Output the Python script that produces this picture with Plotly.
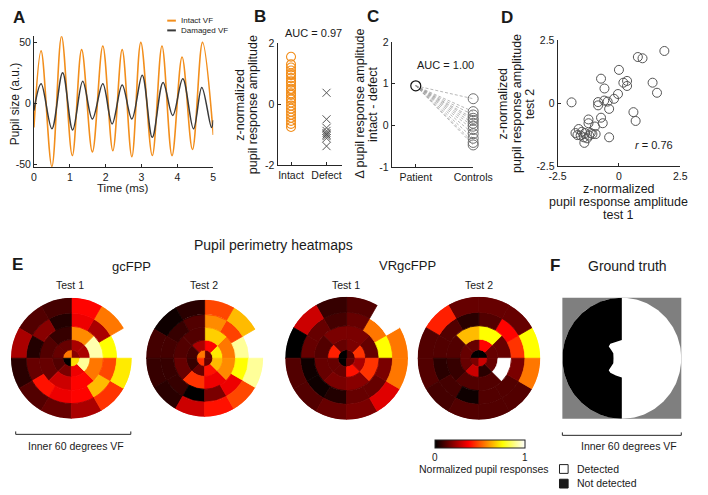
import numpy as np
import plotly.graph_objects as go

W, H = 708, 495
def X(px): return px / W
def Y(py): return 1 - py / H

FONT = "Liberation Sans, Arial, Helvetica, sans-serif"
TXT = "#1a1a1a"
AX = "#262626"
ORANGE = "#F28E1C"
DARK = "#3a3a3a"

# ---------------- Panel A : pupil traces (peaks / troughs) ----------------
INTACT_T = [0, 0.2, 0.5, 0.77, 1.07, 1.33, 1.63, 1.92, 2.2, 2.46, 2.73, 2.98, 3.3, 3.57, 3.85, 4.13, 4.42, 4.7, 5.0]
INTACT_V = [-20, 43, -52, 55, -43, 44, -40, 47, -39, 44, -44, 50, -43, 47, -43, 38, -38, 50, -26]
DAMAGED_T = [0, 0.2, 0.5, 0.8, 1.08, 1.36, 1.63, 1.92, 2.18, 2.46, 2.73, 3.02, 3.3, 3.6, 3.87, 4.15, 4.45, 4.68, 4.95, 5.0]
DAMAGED_V = [-6, 16, -21, 25, -22, 18, -13, 16, -17, 15, -13, 23, -28, 17, -10, 20, -21, 13, -20, -14]

# ---------------- Panel B ----------------
B_CATS = ["Intact", "Defect"]
B_INTACT = [1.55, 1.3, 1.2, 1.1, 1.0, 0.95, 0.85, 0.75, 0.7, 0.6, 0.5, 0.45, 0.35, 0.3, 0.2,
            0.15, 0.05, -0.05, -0.15, -0.25, -0.35, -0.45, -0.55, -0.65, -0.75]
B_DEFECT = [0.37, -0.5, -0.78, -0.88, -0.95, -1.0, -1.05, -1.12, -1.38]
B_AUC = "AUC = 0.97"

# ---------------- Panel C ----------------
C_CATS = ["Patient", "Controls"]
C_PATIENT = 0.95
C_CONTROLS = [0.64, 0.33, 0.25, 0.17, 0.12, 0.05, -0.02, -0.1, -0.2, -0.31, -0.41, -0.47]
C_AUC = "AUC = 1.00"

# ---------------- Panel D ----------------
D_TEST1 = [-1.93, 1.85, 0.77, 0.96, 0.0, -0.73, 0.18, 0.33, 0.33, 1.37, 1.55, -0.59, -0.04, -0.2,
           -0.6, -0.46, -0.85, -0.85, -0.4, 0.59, 0.68, -0.73, -0.66, -1.24, -1.24, -0.98, -0.95,
           -0.4, -1.64, -1.77, -1.51, -1.38, -1.15, -1.21, -1.43, -1.3, -1.41, -1.69, -1.56, -1.08]
D_TEST2 = [0.03, 2.07, 1.83, 1.78, 1.32, 0.97, 0.81, 0.88, 0.68, 0.81, 0.41, 0.58, 0.36, 0.17,
           0.10, 0.06, 0.04, -0.09, -0.23, -0.36, -0.71, -0.58, -0.8, -0.65, -0.8, -0.93, -1.23,
           -1.36, -1.03, -1.19, -1.14, -1.19, -1.19, -1.29, -1.36, -1.4, -1.58, -1.27, -1.29, -1.23]
D_R = "<i>r</i> = 0.76"

# ---------------- Panel E : perimetry heatmaps ----------------
RING_EDGES = [0, 0.14, 0.31, 0.53, 0.75, 1.0]   # fraction of 30 deg
RING_SECTORS = [4, 8, 8, 12, 12]               # sectors per ring, counter-clockwise from right
# values per ring (None = not tested)
GC_TEST1 = [[0.2, 0.55, 0.0, 0.7],
            [0.25, 0.25, 0.15, 0.15, 0.12, 0.18, 0.35, 0.9],
            [0.92, 0.58, 0.08, 0.12, 0.15, 0.3, 0.38, 0.55],
            [0.75, 0.25, 0.35, 0.05, 0.2, 0.05, 0.15, 0.4, 0.35, 0.38, 0.65, 0.48],
            [None, 0.55, 0.38, 0.1, 0.12, 0.25, 0.06, 0.12, 0.15, 0.25, 0.45, 0.72]]
GC_TEST2 = [[0.15, 0.55, 0.45, 0.15],
            [0.72, 0.38, 0.25, 0.1, 0.08, 0.15, 0.4, 0.65],
            [0.55, 0.68, 0.12, 0.12, 0.15, 0.45, 0.35, 0.58],
            [0.9, 0.47, 0.58, 0.12, 0.08, 0.1, 0.08, 0.08, 0.0, 0.18, 0.35, 0.75],
            [None, 0.65, 0.48, 0.06, 0.02, 0.1, 0.08, 0.06, 0.3, 0.4, 0.48, 0.9]]
VR_TEST1 = [[0.12, 0.0, 0.0, 0.15],
            [0.45, 0.18, 0.15, 0.42, 0.15, 0.15, 0.4, 0.25],
            [0.15, 0.18, 0.18, 0.12, 0.15, 0.18, 0.2, 0.45],
            [0.75, 0.55, 0.15, 0.1, 0.15, 0.15, 0.02, 0.02, 0.05, 0.15, 0.15, 0.18],
            [0.55, 1.0, 0.12, 0.08, 0.3, 0.0, 0.12, 0.12, 0.15, 0.18, 0.33, 0.55]]
VR_TEST2 = [[0.0, 0.0, 0.18, 0.3],
            [0.15, 0.38, 0.15, 0.15, 0.15, 0.3, 0.06, 0.15],
            [0.15, 0.75, 0.65, 0.12, 0.08, 0.12, 0.12, 1.0],
            [0.45, 0.38, 0.12, 0.06, 0.12, 0.12, 0.06, 0.1, 0.02, 0.12, 0.12, 0.18],
            [0.75, 0.15, 0.15, 0.15, 0.42, 0.12, 0.12, 0.1, 0.12, 0.12, 0.12, 0.55]]

HOT = [[0, "#000000"], [0.375, "#ff0000"], [0.75, "#ffff00"], [1, "#ffffff"]]

# ---------------- Panel F : ground truth (degrees) ----------------
FIELD_RADIUS = 30
NOTCH_X = [0, -3, -5.8, -6.6, -5.5, -4.3, -4.2, -4.3, -5.5, -6.6, -5.8, -3, 0]
NOTCH_Y = [-9.5, -8.5, -7.2, -6.0, -4.5, -2.5, 0, 2.5, 4.3, 5.8, 7.2, 8.2, 9.0]

fig = go.Figure()

# Panel A
fig.add_trace(go.Scatter(x=INTACT_T, y=INTACT_V, mode="lines", xaxis="x", yaxis="y",
                         line=dict(color=ORANGE, width=1.6, shape="spline", smoothing=1.0)))
fig.add_trace(go.Scatter(x=DAMAGED_T, y=DAMAGED_V, mode="lines", xaxis="x", yaxis="y",
                         line=dict(color=DARK, width=1.5, shape="spline", smoothing=1.0)))

# Panel B
fig.add_trace(go.Scatter(x=[0] * len(B_INTACT), y=B_INTACT, mode="markers", xaxis="x2", yaxis="y2",
                         marker=dict(symbol="circle-open", size=9, color=ORANGE, line=dict(width=1.1)),
                         cliponaxis=False))
fig.add_trace(go.Scatter(x=[1] * len(B_DEFECT), y=B_DEFECT, mode="markers", xaxis="x2", yaxis="y2",
                         marker=dict(symbol="x-thin-open", size=8, color="#555555", line=dict(width=1)),
                         cliponaxis=False))

# Panel C
for v in C_CONTROLS:
    fig.add_trace(go.Scatter(x=[0, 1], y=[C_PATIENT, v], mode="lines", xaxis="x3", yaxis="y3",
                             line=dict(color="#9a9a9a", width=0.7, dash="3px,2px"), cliponaxis=False))
fig.add_trace(go.Scatter(x=[1] * len(C_CONTROLS), y=C_CONTROLS, mode="markers", xaxis="x3", yaxis="y3",
                         marker=dict(symbol="circle-open", size=10, color="#6e6e6e", line=dict(width=1)),
                         cliponaxis=False))
fig.add_trace(go.Scatter(x=[0], y=[C_PATIENT], mode="markers", xaxis="x3", yaxis="y3",
                         marker=dict(symbol="circle-open", size=10, color="#111111", line=dict(width=1.2)),
                         cliponaxis=False))

# Panel D
fig.add_trace(go.Scatter(x=D_TEST1, y=D_TEST2, mode="markers", xaxis="x4", yaxis="y4",
                         marker=dict(symbol="circle-open", size=9, color="#555555", line=dict(width=1)),
                         cliponaxis=False))

# Panel E heatmaps
def heat_trace(values, subplot, showscale=False):
    r, base, theta, width, col = [], [], [], [], []
    for i, ring in enumerate(values):
        n = RING_SECTORS[i]
        for k, v in enumerate(ring):
            if v is None:
                continue
            r.append(RING_EDGES[i + 1] - RING_EDGES[i])
            base.append(RING_EDGES[i])
            theta.append((k + 0.5) * 360 / n)
            width.append(360 / n)
            col.append(v)
    mk = dict(color=col, colorscale=HOT, cmin=0, cmax=1,
              line=dict(color=col, colorscale=HOT, cmin=0, cmax=1, width=0.8))
    if showscale:
        mk["showscale"] = True
        mk["colorbar"] = dict(orientation="h", x=X(491), xanchor="center", y=Y(445), yanchor="top",
                              len=90, lenmode="pixels", thickness=8, thicknessmode="pixels",
                              outlinewidth=1, outlinecolor="#222222", tickvals=[0, 1], ticktext=["0", "1"],
                              ticks="", tickfont=dict(size=10, family=FONT, color=TXT), xpad=0, ypad=0)
    return go.Barpolar(r=r, base=base, theta=theta, width=width, marker=mk, subplot=subplot)

fig.add_trace(heat_trace(GC_TEST1, "polar", showscale=True))
fig.add_trace(heat_trace(GC_TEST2, "polar2"))
fig.add_trace(heat_trace(VR_TEST1, "polar3"))
fig.add_trace(heat_trace(VR_TEST2, "polar4"))

# Panel F
t = np.linspace(0, 2 * np.pi, 200)
fig.add_trace(go.Scatter(x=FIELD_RADIUS * np.cos(t), y=FIELD_RADIUS * np.sin(t), mode="lines",
                         fill="toself", fillcolor="white", line=dict(width=0), xaxis="x5", yaxis="y5"))
ta = np.linspace(np.pi / 2, 3 * np.pi / 2, 120)
bx = list(FIELD_RADIUS * np.cos(ta)) + NOTCH_X + [0]
by = list(FIELD_RADIUS * np.sin(ta)) + NOTCH_Y + [FIELD_RADIUS]
fig.add_trace(go.Scatter(x=bx, y=by, mode="lines", fill="toself", fillcolor="black",
                         line=dict(width=0), xaxis="x5", yaxis="y5"))

# ---------------- layout ----------------
def ax(dom, rng, **kw):
    d = dict(domain=dom, range=rng, showline=True, linecolor=AX, linewidth=1, ticks="inside",
             ticklen=3, tickcolor=AX, showgrid=False, zeroline=False, mirror=False,
             tickfont=dict(size=10.5, family=FONT, color=TXT), fixedrange=True)
    d.update(kw)
    return d

def polar(cx, cy, r):
    return dict(domain=dict(x=[X(cx - r), X(cx + r)], y=[Y(cy + r), Y(cy - r)]),
                bgcolor="rgba(0,0,0,0)", hole=0,
                radialaxis=dict(range=[0, 1], visible=False),
                angularaxis=dict(visible=False, rotation=0, direction="counterclockwise"))

layout = dict(
    width=W, height=H, margin=dict(l=0, r=0, t=0, b=0), showlegend=False,
    paper_bgcolor="white", plot_bgcolor="rgba(0,0,0,0)",
    font=dict(family=FONT, color=TXT),
    xaxis=ax([X(26), X(213)], [0, 5], anchor="y", tickvals=[0, 1, 2, 3, 4, 5]),
    yaxis=ax([Y(165), Y(31)], [-52.4, 55], anchor="x", tickvals=[-50, 0, 50], ticktext=["-50", "0", "50"]),
    xaxis2=ax([X(280), X(347)], [-0.38, 1.43], anchor="y2", tickvals=[0, 1], ticktext=B_CATS),
    yaxis2=ax([Y(163), Y(38)], [-2, 2], anchor="x2", tickvals=[-2, 0, 2], ticktext=["-2", "0", "2"]),
    xaxis3=ax([X(399), X(484)], [-0.42, 1.0], anchor="y3", tickvals=[0, 1], ticktext=C_CATS),
    yaxis3=ax([Y(165), Y(37)], [-1, 2], anchor="x3", tickvals=[-1, 0, 1, 2], ticktext=["-1", "0", "1", "2"]),
    xaxis4=ax([X(572), X(700)], [-2.5, 2.5], anchor="y4", tickvals=[-2.5, 0, 2.5], ticktext=["-2.5", "0", "2.5"]),
    yaxis4=ax([Y(164), Y(35)], [-2.5, 2.5], anchor="x4", tickvals=[-2.5, 0, 2.5], ticktext=["-2.5", "0", "2.5"]),
    xaxis5=dict(domain=[X(577), X(701)], range=[-30, 30], visible=False, anchor="y5", fixedrange=True),
    yaxis5=dict(domain=[Y(423), Y(299)], range=[-30, 30], visible=False, anchor="x5", fixedrange=True),
    polar=polar(65, 361, 63),
    polar2=polar(204, 361, 61),
    polar3=polar(352, 361, 64),
    polar4=polar(490, 361, 64),
)

ann = []
def txt(x, y, s, size=11, xanchor="center", angle=0, bold=False):
    if bold:
        s = "<b>" + s + "</b>"
    ann.append(dict(x=X(x), y=Y(y), xref="paper", yref="paper", text=s, showarrow=False,
                    xanchor=xanchor, yanchor="middle", textangle=angle,
                    font=dict(size=size, family=FONT, color=TXT)))

# panel letters
for L, x, y in [("A", 10, 12), ("B", 262, 11), ("C", 380, 11), ("D", 519, 12), ("E", 9, 265), ("F", 569, 266)]:
    txt(x, y, L, size=17, bold=True)

# A
txt(6, 100, "Pupil size (a.u.)", size=12, angle=-90)
txt(118, 187, "Time (ms)", size=11.5)
txt(177, 15, "Intact VF", size=8, xanchor="left")
txt(177, 25, "Damaged VF", size=8, xanchor="left")
# B
txt(240, 101, "z-normalized", size=12.5, angle=-90)
txt(254, 101, "pupil response amplitude", size=12.5, angle=-90)
txt(317, 28, B_AUC, size=11)
# C
txt(366, 100, "Δ pupil response amplitude", size=12.5, angle=-90)
txt(379, 100, "intact - defect", size=12.5, angle=-90)
txt(455, 60, C_AUC, size=11)
# D
txt(515, 100, "z-normalized", size=12.5, angle=-90)
txt(529, 100, "pupil response amplitude", size=12.5, angle=-90)
txt(543, 100, "test 2", size=12.5, angle=-90)
txt(636, 188, "z-normalized", size=12.5)
txt(636, 201, "pupil response amplitude", size=12.5)
txt(636, 214, "test 1", size=12.5)
txt(673, 142, D_R, size=11)
# E / F titles
txt(276, 245, "Pupil perimetry heatmaps", size=14)
txt(128, 267, "gcFPP", size=13)
txt(416, 266, "VRgcFPP", size=13)
txt(64, 286, "Test 1", size=10.5)
txt(203, 286, "Test 2", size=10.5)
txt(351, 286, "Test 1", size=10.5)
txt(490, 286, "Test 2", size=10.5)
txt(645, 266, "Ground truth", size=14)
txt(70, 451, "Inner 60 degrees VF", size=10.5)
txt(647, 451, "Inner 60 degrees VF", size=10.5)
txt(495, 475, "Normalized pupil responses", size=10.5)
txt(590, 474, "Detected", size=10.5, xanchor="left")
txt(590, 489, "Not detected", size=10.5, xanchor="left")
layout["annotations"] = ann

def path(pts):
    return "M " + " L ".join(f"{X(a):.5f},{Y(b):.5f}" for a, b in pts)

shapes = [
    dict(type="rect", xref="paper", yref="paper", x0=X(577), x1=X(701), y0=Y(423), y1=Y(299),
         fillcolor="#7f7f7f", line=dict(width=0), layer="below"),
    dict(type="line", xref="paper", yref="paper", x0=X(165), x1=X(174), y0=Y(15), y1=Y(15),
         line=dict(color=ORANGE, width=2)),
    dict(type="line", xref="paper", yref="paper", x0=X(165), x1=X(174), y0=Y(25), y1=Y(25),
         line=dict(color=DARK, width=2)),
    dict(type="path", xref="paper", yref="paper", path=path([(7, 436), (7, 439), (127, 439), (127, 436)]),
         line=dict(color=AX, width=1)),
    dict(type="path", xref="paper", yref="paper", path=path([(577, 437), (577, 440), (701, 440), (701, 437)]),
         line=dict(color=AX, width=1)),
    dict(type="rect", xref="paper", yref="paper", x0=X(574), x1=X(583), y0=Y(479), y1=Y(470),
         fillcolor="white", line=dict(color="#222222", width=1)),
    dict(type="rect", xref="paper", yref="paper", x0=X(574), x1=X(583), y0=Y(494), y1=Y(485),
         fillcolor="#1a1a1a", line=dict(color="#1a1a1a", width=1)),
]
layout["shapes"] = shapes

fig.update_layout(**layout)
fig.write_html("out.html")
